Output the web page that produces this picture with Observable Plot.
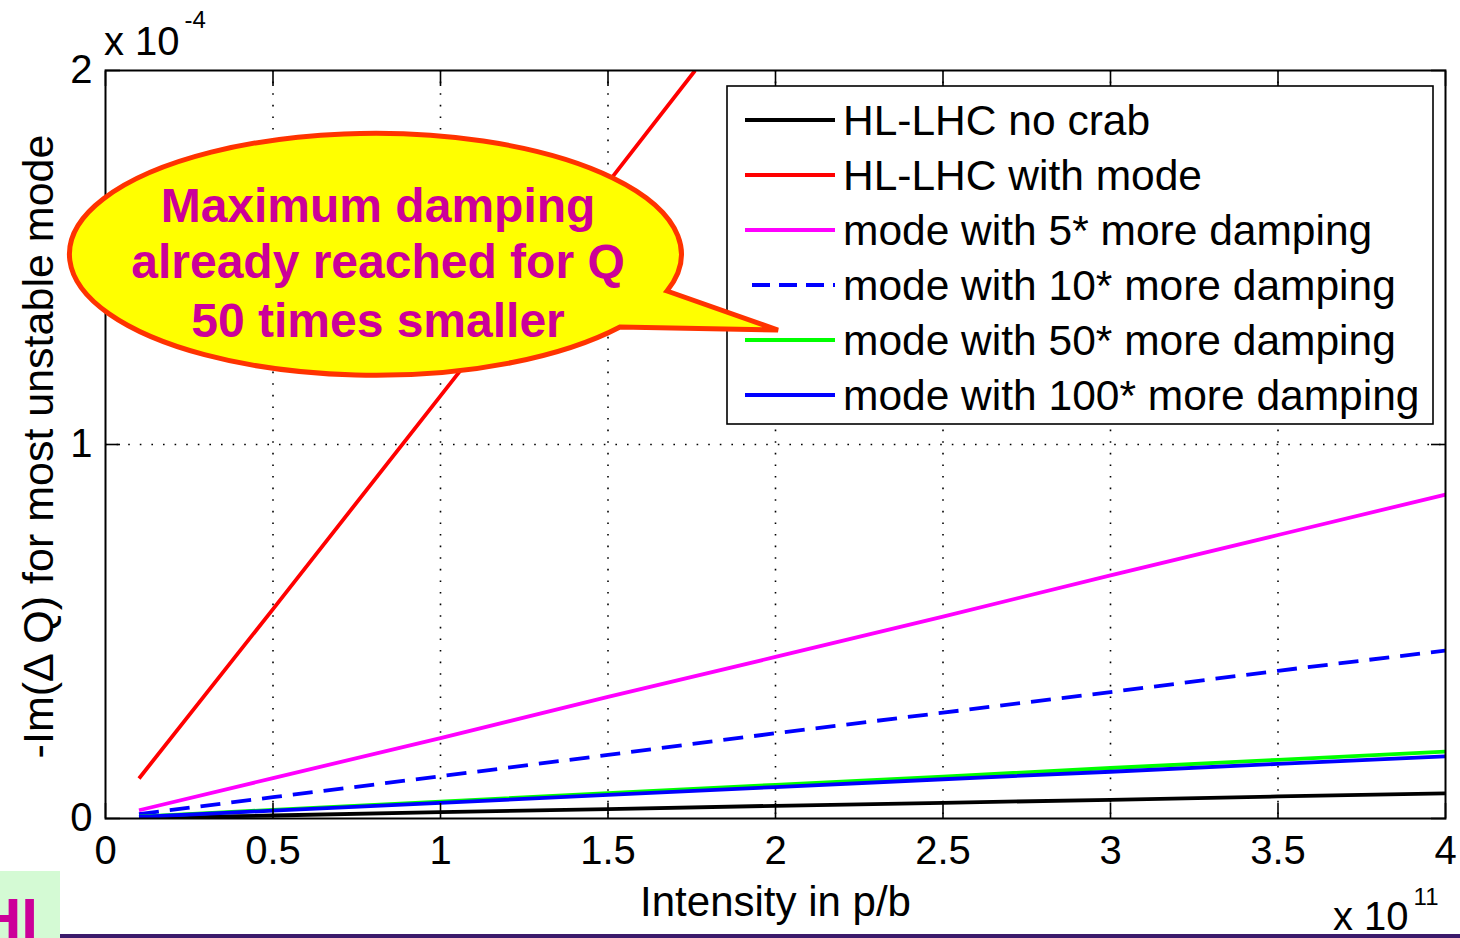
<!DOCTYPE html>
<html>
<head>
<meta charset="utf-8">
<script src="https://cdn.jsdelivr.net/npm/d3@7"></script>
<script src="https://cdn.jsdelivr.net/npm/@observablehq/plot@0.6"></script>
<style>
  html, body { margin: 0; padding: 0; background: #fff; }
  #chart { position: relative; width: 1460px; height: 938px; }
</style>
</head>
<body>
<div id="chart"></div>
<script>
// ---- data (units: x in 1e11 p/b, y in 1e-4) ----
const intensity = [0.1, 0.5, 1, 1.5, 2, 2.5, 3, 3.5, 4];
const redIntensity = [0.1, 0.5, 1, 1.5, 1.76];
const noCrab    = [0.002, 0.008, 0.017, 0.025, 0.034, 0.042, 0.050, 0.059, 0.067];
const withMode  = [0.107, 0.56, 1.13, 1.70, 2.0];
const damp5     = [0.022, 0.108, 0.215, 0.325, 0.432, 0.540, 0.650, 0.758, 0.866];
const damp10    = [0.012, 0.057, 0.113, 0.170, 0.228, 0.283, 0.338, 0.395, 0.449];
const damp50    = [0.005, 0.023, 0.045, 0.068, 0.090, 0.112, 0.135, 0.157, 0.179];
const damp100   = [0.004, 0.021, 0.042, 0.063, 0.084, 0.105, 0.125, 0.146, 0.166];

const seriesNames = [
  "HL-LHC no crab",
  "HL-LHC with mode",
  "mode with 5* more damping",
  "mode with 10* more damping",
  "mode with 50* more damping",
  "mode with 100* more damping"
];
const seriesColors = ["#000000", "#ff0000", "#ff00ff", "#0000ff", "#00ff00", "#0000ff"];
const seriesDash = [null, null, null, "20,11", null, null];
const seriesX = [intensity, redIntensity, intensity, intensity, intensity, intensity];
const seriesY = [noCrab, withMode, damp5, damp10, damp50, damp100];

const xTicks = [0, 0.5, 1, 1.5, 2, 2.5, 3, 3.5, 4];
const yTicks = [0, 1, 2];
const xLabel = "Intensity in p/b";
const yLabel = "-Im(\u0394 Q) for most unstable mode";
const calloutLines = ["Maximum damping", "already reached for Q", "50 times smaller"];

// build table
const rows = [];
seriesNames.forEach((name, i) => {
  seriesX[i].forEach((x, j) => rows.push({series: name, intensity: x, value: seriesY[i][j]}));
});

const FONT = "'Liberation Sans', Arial, Helvetica, sans-serif";
const gridStyle = {stroke: "#000", strokeOpacity: 1, strokeWidth: 1.6, strokeDasharray: "1.6,10"};

const lineMarks = seriesNames.map((name, i) =>
  Plot.line(rows.filter(r => r.series === name), {
    x: "intensity", y: "value",
    stroke: seriesColors[i],
    strokeWidth: 3.8,
    strokeDasharray: seriesDash[i] || undefined,
    strokeLinecap: "butt",
    clip: true
  })
);

const chart = Plot.plot({
  width: 1460,
  height: 938,
  marginLeft: 105,
  marginRight: 15,
  marginTop: 70,
  marginBottom: 120,
  style: {fontFamily: FONT, fontSize: "40px", background: "#fff", color: "#000", overflow: "visible"},
  x: {domain: [0, 4]},
  y: {domain: [0, 2]},
  marks: [
    Plot.gridX(xTicks.slice(1, -1), gridStyle),
    Plot.gridY(yTicks.slice(1, -1), gridStyle),
    ...lineMarks,
    Plot.frame({stroke: "#000", strokeWidth: 2}),
    // inward ticks
    Plot.axisX(xTicks, {anchor: "bottom", tickSize: -15, tickFormat: () => "", label: null, strokeWidth: 1.6}),
    Plot.axisX(xTicks, {anchor: "top", tickSize: -15, tickFormat: () => "", label: null, strokeWidth: 1.6}),
    Plot.axisY(yTicks, {anchor: "left", tickSize: -15, tickFormat: () => "", label: null, strokeWidth: 1.6}),
    Plot.axisY(yTicks, {anchor: "right", tickSize: -15, tickFormat: () => "", label: null, strokeWidth: 1.6}),
    // tick labels
    Plot.axisX(xTicks, {anchor: "bottom", tickSize: 0, tickPadding: 17, label: null, fontSize: 40, tickFormat: d => String(d)}),
    Plot.axisY(yTicks, {anchor: "left", tickSize: 0, tickPadding: 13, label: null, fontSize: 40, tickFormat: d => String(d)}),
    // axis labels
    Plot.text([xLabel], {frameAnchor: "bottom", textAnchor: "middle", lineAnchor: "middle", dy: 84, fontSize: 42, fill: "#000"}),
    Plot.text([yLabel], {frameAnchor: "left", textAnchor: "middle", lineAnchor: "middle", rotate: -90, dx: -66, dy: 2, fontSize: 43, fill: "#000"})
  ]
});

document.getElementById("chart").appendChild(chart);

const svg = d3.select(chart);

function addText(x, y, size, opts = {}) {
  return svg.append("text").attr("x", x).attr("y", y)
    .attr("font-family", FONT).attr("font-size", size)
    .attr("text-anchor", opts.anchor || "start")
    .attr("font-weight", opts.weight || "normal")
    .attr("fill", opts.fill || "#000");
}

// exponent labels
const e1 = addText(104, 55, 40);
e1.append("tspan").text("x 10");
e1.append("tspan").attr("dx", 5).attr("dy", -27).attr("font-size", 24).text("-4");

const e2 = addText(1333, 930, 40);
e2.append("tspan").text("x 10");
e2.append("tspan").attr("dx", 5).attr("dy", -25).attr("font-size", 24).text("11");

// legend
const lg = svg.append("g");
lg.append("rect").attr("x", 727).attr("y", 86).attr("width", 706).attr("height", 338)
  .attr("fill", "#fff").attr("stroke", "#000").attr("stroke-width", 1.6);
seriesNames.forEach((name, i) => {
  const cy = 120 + i * 55;
  lg.append("line").attr("x1", seriesDash[i] ? 752 : 745).attr("x2", 835).attr("y1", cy).attr("y2", cy)
    .attr("stroke", seriesColors[i]).attr("stroke-width", 3.8)
    .attr("stroke-dasharray", seriesDash[i] ? "18,9" : null);
  lg.append("text").attr("x", 843).attr("y", cy + 15).attr("font-family", FONT).attr("font-size", 42.5)
    .attr("text-anchor", "start").attr("fill", "#000").text(name);
});

// callout
const cg = svg.append("g");
cg.append("path")
  .attr("d", "M 667 291 L 778 330 L 620 327 A 306 121 0 1 1 667 291 Z")
  .attr("fill", "#ffff00").attr("stroke", "#ff3300").attr("stroke-width", 5).attr("stroke-linejoin", "miter");
const baselines = [222, 278, 337];
calloutLines.forEach((t, i) => {
  cg.append("text").attr("x", 378).attr("y", baselines[i]).attr("text-anchor", "middle")
    .attr("font-family", FONT).attr("font-weight", "bold").attr("font-size", 48)
    .attr("fill", "#cc0099").text(t);
});

// bottom decorations
svg.append("rect").attr("x", 0).attr("y", 871).attr("width", 60).attr("height", 67).attr("fill", "#d4fad4");
addText(-22, 940, 60, {weight: "bold", fill: "#cc0099"}).text("HI");
svg.append("rect").attr("x", 60).attr("y", 934).attr("width", 1400).attr("height", 4).attr("fill", "#3b1a6b");
</script>
</body>
</html>
